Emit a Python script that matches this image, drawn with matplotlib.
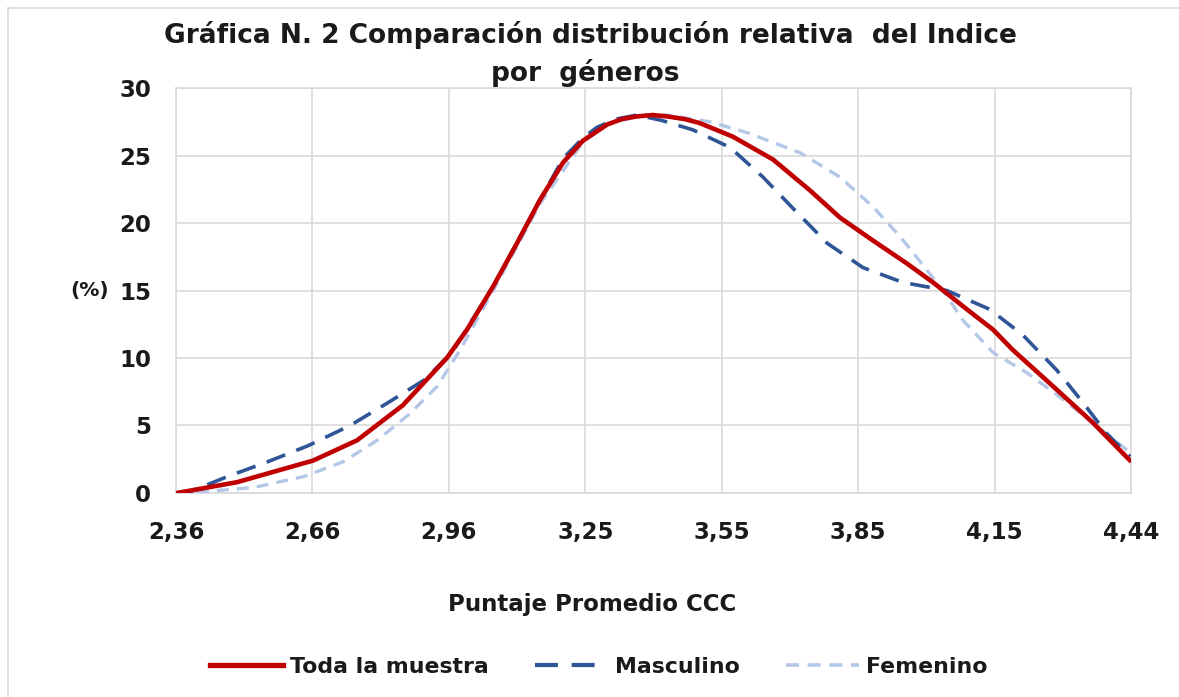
import matplotlib.pyplot as plt
from matplotlib.lines import Line2D

# --- datos ---
x_toda = [2.362, 2.493, 2.659, 2.755, 2.855, 2.951, 2.995, 3.052, 3.104, 3.154,
          3.205, 3.248, 3.301, 3.333, 3.366, 3.400, 3.431, 3.470, 3.503, 3.575,
          3.663, 3.744, 3.809, 3.881, 3.955, 4.012, 4.086, 4.143, 4.186, 4.274,
          4.361, 4.442]
y_toda = [0.0, 0.8, 2.4, 3.9, 6.5, 10.0, 12.1, 15.3, 18.5, 21.7,
          24.5, 26.1, 27.3, 27.7, 27.9, 28.0, 27.9, 27.7, 27.4, 26.4,
          24.7, 22.4, 20.4, 18.7, 17.0, 15.6, 13.6, 12.1, 10.6, 7.9,
          5.2, 2.4]

x_masc = [2.362, 2.391, 2.471, 2.559, 2.648, 2.740, 2.823, 2.903, 2.962, 3.052,
          3.154, 3.205, 3.248, 3.279, 3.320, 3.366, 3.420, 3.488, 3.569, 3.641,
          3.706, 3.781, 3.859, 3.946, 4.042, 4.136, 4.208, 4.282, 4.339, 4.391,
          4.442]
y_masc = [0.0, 0.1, 1.2, 2.3, 3.5, 5.0, 6.7, 8.4, 10.4, 15.3,
          21.7, 24.8, 26.3, 27.1, 27.7, 28.0, 27.6, 26.9, 25.6, 23.4,
          21.1, 18.5, 16.7, 15.6, 15.0, 13.6, 11.7, 9.1, 6.7, 4.4,
          2.7]

x_fem = [2.362, 2.419, 2.528, 2.637, 2.724, 2.799, 2.871, 2.930, 2.980, 3.052,
         3.154, 3.248, 3.301, 3.366, 3.431, 3.525, 3.606, 3.722, 3.809, 3.881,
         3.940, 3.999, 4.042, 4.077, 4.143, 4.217, 4.289, 4.361, 4.427, 4.442]
y_fem = [0.0, 0.1, 0.4, 1.2, 2.3, 3.9, 5.9, 7.9, 10.6, 15.0,
         21.4, 26.0, 27.3, 27.9, 28.0, 27.5, 26.7, 25.2, 23.4, 21.2,
         19.0, 16.5, 14.6, 12.8, 10.4, 8.9, 7.1, 5.2, 3.4, 3.0]

x_ticks = [2.36, 2.6577, 2.9554, 3.2531, 3.5509, 3.8486, 4.1463, 4.444]
x_labels = ['2,36', '2,66', '2,96', '3,25', '3,55', '3,85', '4,15', '4,44']
y_ticks = [0, 5, 10, 15, 20, 25, 30]

series = ['Toda la muestra', 'Masculino', 'Femenino']

plt.rcParams['font.family'] = ['DejaVu Sans']
plt.rcParams['font.weight'] = 'bold'
plt.rcParams['axes.labelweight'] = 'bold'

fig = plt.figure(figsize=(11.79, 6.97), dpi=100)
ax = fig.add_axes([0.1493, 0.2927, 0.8100, 0.5810])

c_toda = '#C00000'
c_masc = '#2F5597'
c_fem = '#B4C7E7'
c_txt = '#1a1a1a'

ax.plot(x_fem, y_fem, color=c_fem, lw=2.4, dashes=(3.6, 2.4), label=series[2], zorder=3)
ax.plot(x_masc, y_masc, color=c_masc, lw=2.6, dashes=(5.5, 3.3), label=series[1], zorder=4)
ax.plot(x_toda, y_toda, color=c_toda, lw=3.3, label=series[0], zorder=5,
        solid_capstyle='round', solid_joinstyle='round')

ax.set_xlim(2.36, 4.444)
ax.set_ylim(0, 30)
ax.set_xticks(x_ticks)
ax.set_xticklabels(x_labels)
ax.set_yticks(y_ticks)
ax.tick_params(axis='both', length=0, labelsize=16.5, pad=18, colors=c_txt)
ax.tick_params(axis='x', pad=20)
ax.grid(True, color='#D9D9D9', lw=1.2)
ax.set_axisbelow(True)
for s in ax.spines.values():
    s.set_color('#D9D9D9')
    s.set_linewidth(1.2)

ax.set_xlabel('Puntaje Promedio CCC', fontsize=16.5, color=c_txt)
ax.xaxis.set_label_coords(0.436, -0.248)
ax.set_ylabel('(%)', fontsize=14.5, rotation=0, labelpad=7, color=c_txt,
              va='center', ha='right')

fig.text(0.501, 0.938, 'Gráfica N. 2 Comparación distribución relativa  del Indice',
         ha='center', va='baseline', fontsize=19, color=c_txt)
fig.text(0.496, 0.884, 'por  géneros',
         ha='center', va='baseline', fontsize=19, color=c_txt)

handles = [Line2D([], [], color=c_toda, lw=3.8),
           Line2D([], [], color=c_masc, lw=3.0, dashes=(5.5, 3.3)),
           Line2D([], [], color=c_fem, lw=2.6, dashes=(3.6, 2.4))]
leg = fig.legend(handles, series, loc='center', bbox_to_anchor=(0.508, 0.043), ncol=3,
                 frameon=False, fontsize=15.8, handlelength=3.3, handletextpad=0.35,
                 columnspacing=2.1)
for t in leg.get_texts():
    t.set_color(c_txt)

# borde del area del grafico
fig.add_artist(Line2D([0.007, 0.007], [0, 0.989], color='#D9D9D9', lw=1.2))
fig.add_artist(Line2D([0.007, 1.0], [0.989, 0.989], color='#D9D9D9', lw=1.2))

fig.savefig('out.png', dpi=100)
plt.close(fig)
